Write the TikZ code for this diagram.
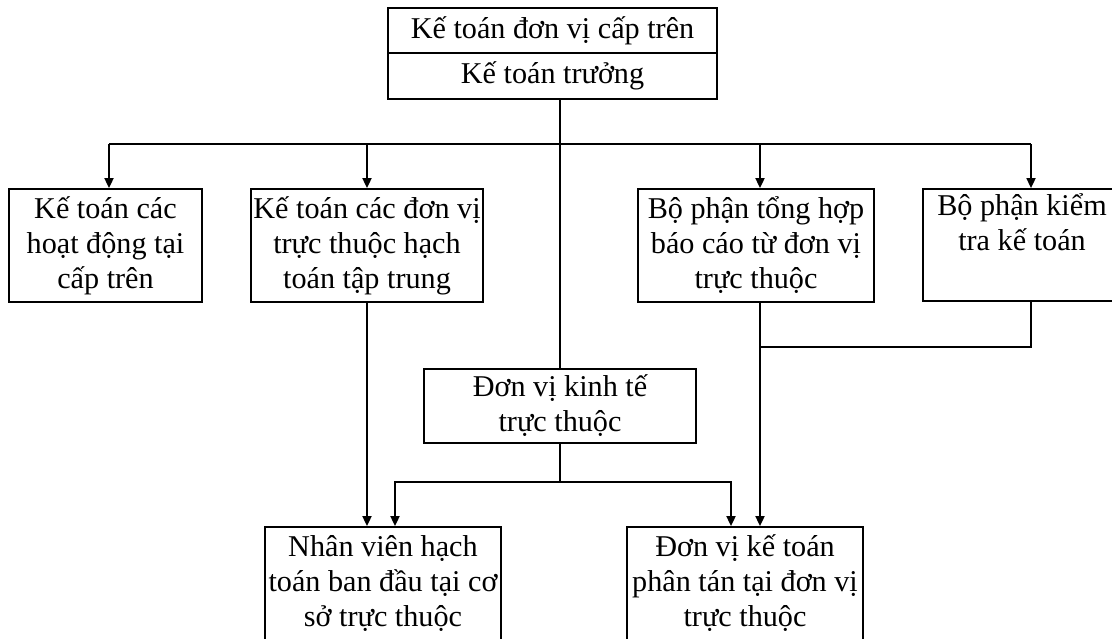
\documentclass[tikz,border=0pt]{standalone}
\usepackage{fontspec}
\setmainfont{Liberation Serif}
\usetikzlibrary{arrows.meta}

\begin{document}
\begin{tikzpicture}[x=0.5pt,y=-0.5pt,
    box/.style={draw,line width=0.9pt,align=center,inner sep=1pt,
      font=\fontsize{15.1pt}{17.5pt}\selectfont},
    wire/.style={line width=0.9pt},
    arrow/.style={line width=0.9pt,-{Triangle[length=5pt,width=4.5pt]}}]
            \useasboundingbox (0,0) rectangle (1112,638);
            \clip (0,0) rectangle (1112,638);

            \node[box,minimum width=164.5pt,minimum height=22.5pt] (upper) at (552.5,30.5) {Kế toán đơn vị cấp trên};
            \node[box,minimum width=164.5pt,minimum height=23pt] (chief) at (552.5,76) {Kế toán trưởng};
            \node[box,minimum width=96.5pt,minimum height=56.5pt] (local) at (105.5,245.5) {Kế toán các\\hoạt động tại\\cấp trên};
            \node[box,minimum width=114.5pt,minimum height=56.5pt] (central) at (367,245.5) {Kế toán các đơn vị\\trực thuộc hạch\\toán tập trung};
            \node[box,minimum width=118pt,minimum height=56.5pt] (summary) at (756,245.5) {Bộ phận tổng hợp\\báo cáo từ đơn vị\\trực thuộc};
            \node[box,minimum width=99pt,minimum height=56pt] (audit) at (1022,245) {Bộ phận kiểm\\tra kế toán\\\strut};
            \node[box,minimum width=136pt,minimum height=37pt] (unit) at (560,406) {Đơn vị kinh tế\\trực thuộc};
            \node[box,minimum width=118pt,minimum height=56.5pt] (staff) at (383,583.5) {Nhân viên hạch\\toán ban đầu tại cơ\\sở trực thuộc};
            \node[box,minimum width=118pt,minimum height=56.5pt] (branch) at (745,583.5) {Đơn vị kế toán\\phân tán tại đơn vị\\trực thuộc};

            \coordinate (bus) at (560,144);
            \coordinate (merge) at (760,347);
            \coordinate (split) at (560,482);
            \coordinate (in1) at ([xshift=1.75pt]local.north);
            \coordinate (in4) at ([xshift=2pt]summary.north);
            \coordinate (in5) at ([xshift=4.5pt]audit.north);
            \coordinate (out1) at ([xshift=6pt]staff.north);
            \coordinate (out2) at ([xshift=-7pt]branch.north);

            \draw[wire] (chief.south -| unit.north) -- (unit.north);
            \draw[wire] (in1 |- bus) -- (in5 |- bus);
            \draw[arrow] (in1 |- bus) -- (in1);
            \draw[arrow] (central.north |- bus) -- (central.north);
            \draw[arrow] (in4 |- bus) -- (in4);
            \draw[arrow] (in5 |- bus) -- (in5);

            \draw[arrow] (central.south) -- (central.south |- staff.north);
            \draw[arrow] (in4 |- summary.south) -- (in4 |- branch.north);
            \draw[wire] (in5 |- audit.south) -- (in5 |- merge) -- (merge);

            \draw[wire] (unit.south) -- (split);
            \draw[arrow] (split) -| (out1);
            \draw[arrow] (split) -| (out2);
        \end{tikzpicture}
\end{document}
